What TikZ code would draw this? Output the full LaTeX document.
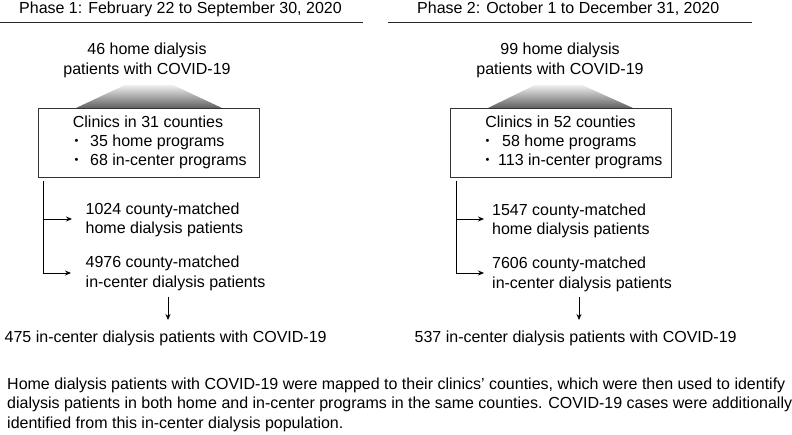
\documentclass[tikz,border=0pt]{standalone}
\usepackage{fontspec}
\setmainfont{Liberation Sans}
\usetikzlibrary{arrows.meta}
\begin{document}
\begin{tikzpicture}[x=1pt,y=-1pt,
  txt/.style={inner sep=0pt, font=\fontsize{16}{19.5}\selectfont},
  lbl/.style={txt, anchor=base west},
  ctr/.style={txt, anchor=base},
  bul/.style={inner sep=0pt, anchor=base west, font=\fontsize{11}{11}\selectfont},
  rulestyle/.style={line width=0.9pt, draw=black!85},
  conn/.style={line width=0.8pt, draw=black},
  arr/.style={conn, -{Stealth[length=6pt,width=5pt]}},
  clinicbox/.style={draw=black!80, line width=0.9pt, minimum width=221pt, minimum height=69pt, anchor=north west, inner sep=0pt},
  funnel/.style={top color=black!6, bottom color=black!62}
]
\useasboundingbox (0,0) rectangle (792,435);

% ---------------- Phase 1 ----------------
\node[lbl] (t1) at (19,14) {Phase 1: February 22 to September 30, 2020};
\coordinate (r1a) at (0,22); \coordinate (r1b) at (363,22);
\draw[rulestyle] (r1a) -- (r1b);

\node[ctr] (h1a) at (147,55) {46 home dialysis};
\node[ctr] (h1b) at (147,75) {patients with COVID-19};
\shade[funnel] (125,85) -- (173,85) -- (222,108) -- (76,108) -- cycle;
\node[clinicbox] (b1) at (38,108) {};
\node[ctr] (c1a) at (148,128) {Clinics in 31 counties};
\node[bul] (c1bul1) at (74.5,145) {•};
\node[lbl] (c1b) at (90,147) {35 home programs};
\node[bul] (c1bul2) at (74.5,164) {•};
\node[lbl] (c1c) at (90,166) {68 in-center programs};

\coordinate (v1s) at (43,181);
\coordinate (v1m) at (43,219);
\coordinate (v1e) at (43,273);
\coordinate (a1e) at (72,219);
\coordinate (a2e) at (71,273);
\draw[arr] (v1s) -- (v1e) -- (a2e);
\draw[arr] (v1m) -- (a1e);

\node[lbl] (m1a) at (85.5,215) {1024 county-matched};
\node[lbl] (m1b) at (85.5,234) {home dialysis patients};
\node[lbl] (n1a) at (85.5,268) {4976 county-matched};
\node[lbl] (n1b) at (85.5,288) {in-center dialysis patients};

\coordinate (d1s) at (168,297);
\coordinate (d1e) at (168,320);
\draw[arr] (d1s) -- (d1e);
\node[lbl] (res1) at (4.5,343) {475 in-center dialysis patients with COVID-19};

% ---------------- Phase 2 ----------------
\node[lbl] (t2) at (417,14) {Phase 2: October 1 to December 31, 2020};
\coordinate (r2a) at (388,22); \coordinate (r2b) at (752,22);
\draw[rulestyle] (r2a) -- (r2b);

\node[ctr] (h2a) at (560,55) {99 home dialysis};
\node[ctr] (h2b) at (560,75) {patients with COVID-19};
\shade[funnel] (535,85) -- (582,85) -- (633,108) -- (488,108) -- cycle;
\node[clinicbox] (b2) at (450,108) {};
\node[ctr] (c2a) at (560.5,128) {Clinics in 52 counties};
\node[bul] (c2bul1) at (485.5,145) {•};
\node[lbl] (c2b) at (502,147) {58 home programs};
\node[bul] (c2bul2) at (485.5,164) {•};
\node[lbl] (c2c) at (498,166) {113 in-center programs};

\coordinate (v2s) at (456,181);
\coordinate (v2m) at (456,219);
\coordinate (v2e) at (456,273);
\coordinate (a3e) at (484,219);
\coordinate (a4e) at (484,273);
\draw[arr] (v2s) -- (v2e) -- (a4e);
\draw[arr] (v2m) -- (a3e);

\node[lbl] (m2a) at (492,216) {1547 county-matched};
\node[lbl] (m2b) at (492,235) {home dialysis patients};
\node[lbl] (n2a) at (492,269) {7606 county-matched};
\node[lbl] (n2b) at (492,289) {in-center dialysis patients};

\coordinate (d2s) at (579,297);
\coordinate (d2e) at (579,320);
\draw[arr] (d2s) -- (d2e);
\node[lbl] (res2) at (414.5,343) {537 in-center dialysis patients with COVID-19};

% ---------------- Footnote ----------------
\node[lbl] (f1) at (7,389) {Home dialysis patients with COVID-19 were mapped to their clinics’ counties, which were then used to identify};
\node[lbl] (f2) at (7,408.5) {dialysis patients in both home and in-center programs in the same counties. COVID-19 cases were additionally};
\node[lbl] (f3) at (7,428) {identified from this in-center dialysis population.};
\end{tikzpicture}
\end{document}
